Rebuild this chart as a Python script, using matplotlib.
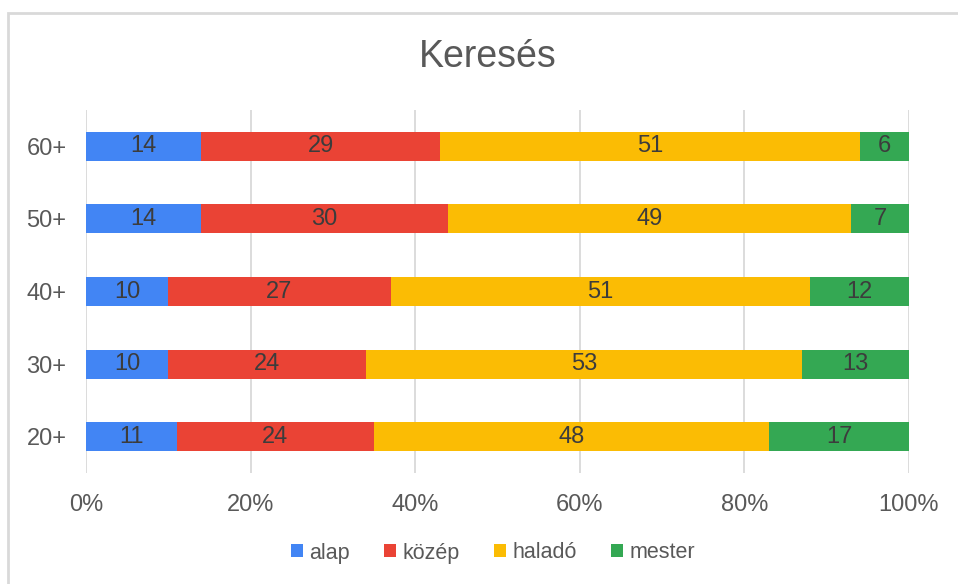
import numpy as np
import matplotlib.pyplot as plt
from matplotlib.patches import Patch, Rectangle

plt.rcParams['font.family'] = ['Liberation Sans', 'DejaVu Sans']

# Data
groups = ['20+', '30+', '40+', '50+', '60+']
levels = ['alap', 'közép', 'haladó', 'mester']
alap = [11, 10, 10, 14, 14]
kozep = [24, 24, 27, 30, 29]
halado = [48, 53, 51, 49, 51]
mester = [17, 13, 12, 7, 6]
colors = ['#4285F4', '#EA4335', '#FBBC04', '#34A853']

series = [alap, kozep, halado, mester]
totals = np.sum(series, axis=0)

fig = plt.figure(figsize=(9.58, 5.84), dpi=100)
ax = fig.add_axes([86 / 958, 1 - 473 / 584, (909 - 86) / 958, (473 - 110) / 584])

# outer chart border
fig.patches.append(Rectangle((8 / 958, -0.1), 1.2, 1 - 13 / 584 + 0.1,
                             transform=fig.transFigure, fill=False,
                             edgecolor='#d9d9d9', linewidth=2))

y = np.arange(len(groups))
left = np.zeros(len(groups))
for vals, col, name in zip(series, colors, levels):
    share = np.array(vals) / totals
    bars = ax.barh(y, share, left=left, height=0.4, color=col, label=name)
    ax.bar_label(bars, labels=[str(v) for v in vals], label_type='center',
                 fontsize=17, color='#3c3c3c')
    left += share

ax.set_xlim(0, 1)
ax.set_ylim(-0.5, len(groups) - 0.5)
ax.set_xticks(np.linspace(0, 1, 6))
ax.set_xticklabels(['0%', '20%', '40%', '60%', '80%', '100%'])
ax.set_yticks(y)
ax.set_yticklabels(groups)
ax.tick_params(axis='both', length=0, labelsize=17, labelcolor='#595959')
ax.tick_params(axis='x', pad=15)
ax.tick_params(axis='y', pad=14)
ax.grid(axis='x', color='#d9d9d9', linewidth=1.3)
ax.set_axisbelow(True)
for s in ax.spines.values():
    s.set_visible(False)

fig.text(488 / 958, 1 - 57 / 584, 'Keresés', ha='center', va='center',
         fontsize=27, color='#595959')

handles = [Patch(facecolor=c, label=l) for c, l in zip(colors, levels)]
fig.legend(handles=handles, loc='center', bbox_to_anchor=(493 / 958, 1 - 553 / 584),
           ncol=4, frameon=False, fontsize=15.5, handlelength=0.55, handleheight=0.55,
           handletextpad=0.3, columnspacing=1.6, labelcolor='#595959')

fig.savefig('out.png', dpi=100)
